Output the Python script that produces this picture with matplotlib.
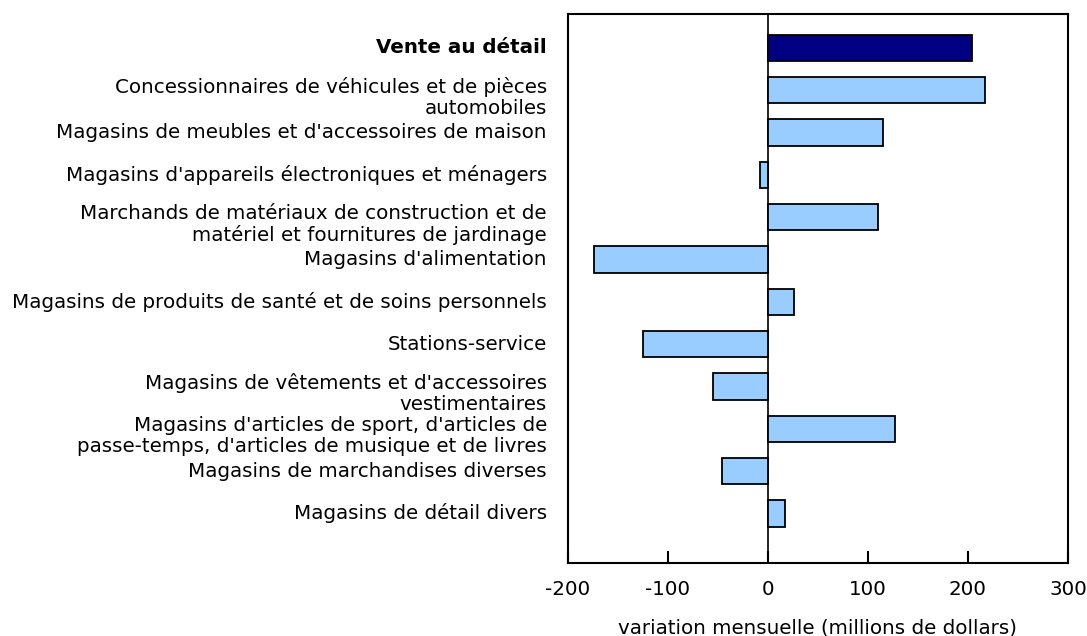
import matplotlib.pyplot as plt

# Data
categories = [
    "Vente au détail",
    "Concessionnaires de véhicules et de pièces\nautomobiles",
    "Magasins de meubles et d'accessoires de maison",
    "Magasins d'appareils électroniques et ménagers",
    "Marchands de matériaux de construction et de\nmatériel et fournitures de jardinage",
    "Magasins d'alimentation",
    "Magasins de produits de santé et de soins personnels",
    "Stations-service",
    "Magasins de vêtements et d'accessoires\nvestimentaires",
    "Magasins d'articles de sport, d'articles de\npasse-temps, d'articles de musique et de livres",
    "Magasins de marchandises diverses",
    "Magasins de détail divers",
]
values = [204, 217, 115, -8, 110, -174, 26, -125, -55, 127, -46, 17]
xticks = [-200, -100, 0, 100, 200, 300]

plt.rcParams["font.family"] = ["DejaVu Sans"]
fs = 14.3

fig = plt.figure(figsize=(10.87, 6.36), dpi=100)
ax = fig.add_axes([0.5225, 0.1148, 0.46, 0.8632])

colors = ["#000080"] + ["#99CCFF"] * (len(values) - 1)
pos = list(range(len(values)))
ax.barh(pos, values, height=0.62, color=colors, edgecolor="black", linewidth=1.3, zorder=3)

ax.axvline(0, color="black", linewidth=1.2, zorder=2)
ax.set_xlim(-200, 300)
ax.set_ylim(12.17, -0.8)

ax.set_xticks(xticks)
ax.set_xticklabels([str(t) for t in xticks], fontsize=fs)
ax.tick_params(axis="x", direction="in", length=9, width=1.5, pad=12)
ax.set_yticks([])

for s in ax.spines.values():
    s.set_linewidth(1.5)
    s.set_color("black")

# category labels (two-line ones sit a bit lower)
for i, lab in enumerate(categories):
    off = 0.17 if "\n" in lab else 0
    ax.text(-0.042, i + off, lab, transform=ax.get_yaxis_transform(),
            ha="right", va="center", fontsize=fs, linespacing=1.12,
            fontweight="bold" if i == 0 else "normal", color="black")

ax.set_xlabel("variation mensuelle (millions de dollars)", fontsize=fs, labelpad=14)

fig.savefig("out.png", dpi=100)
